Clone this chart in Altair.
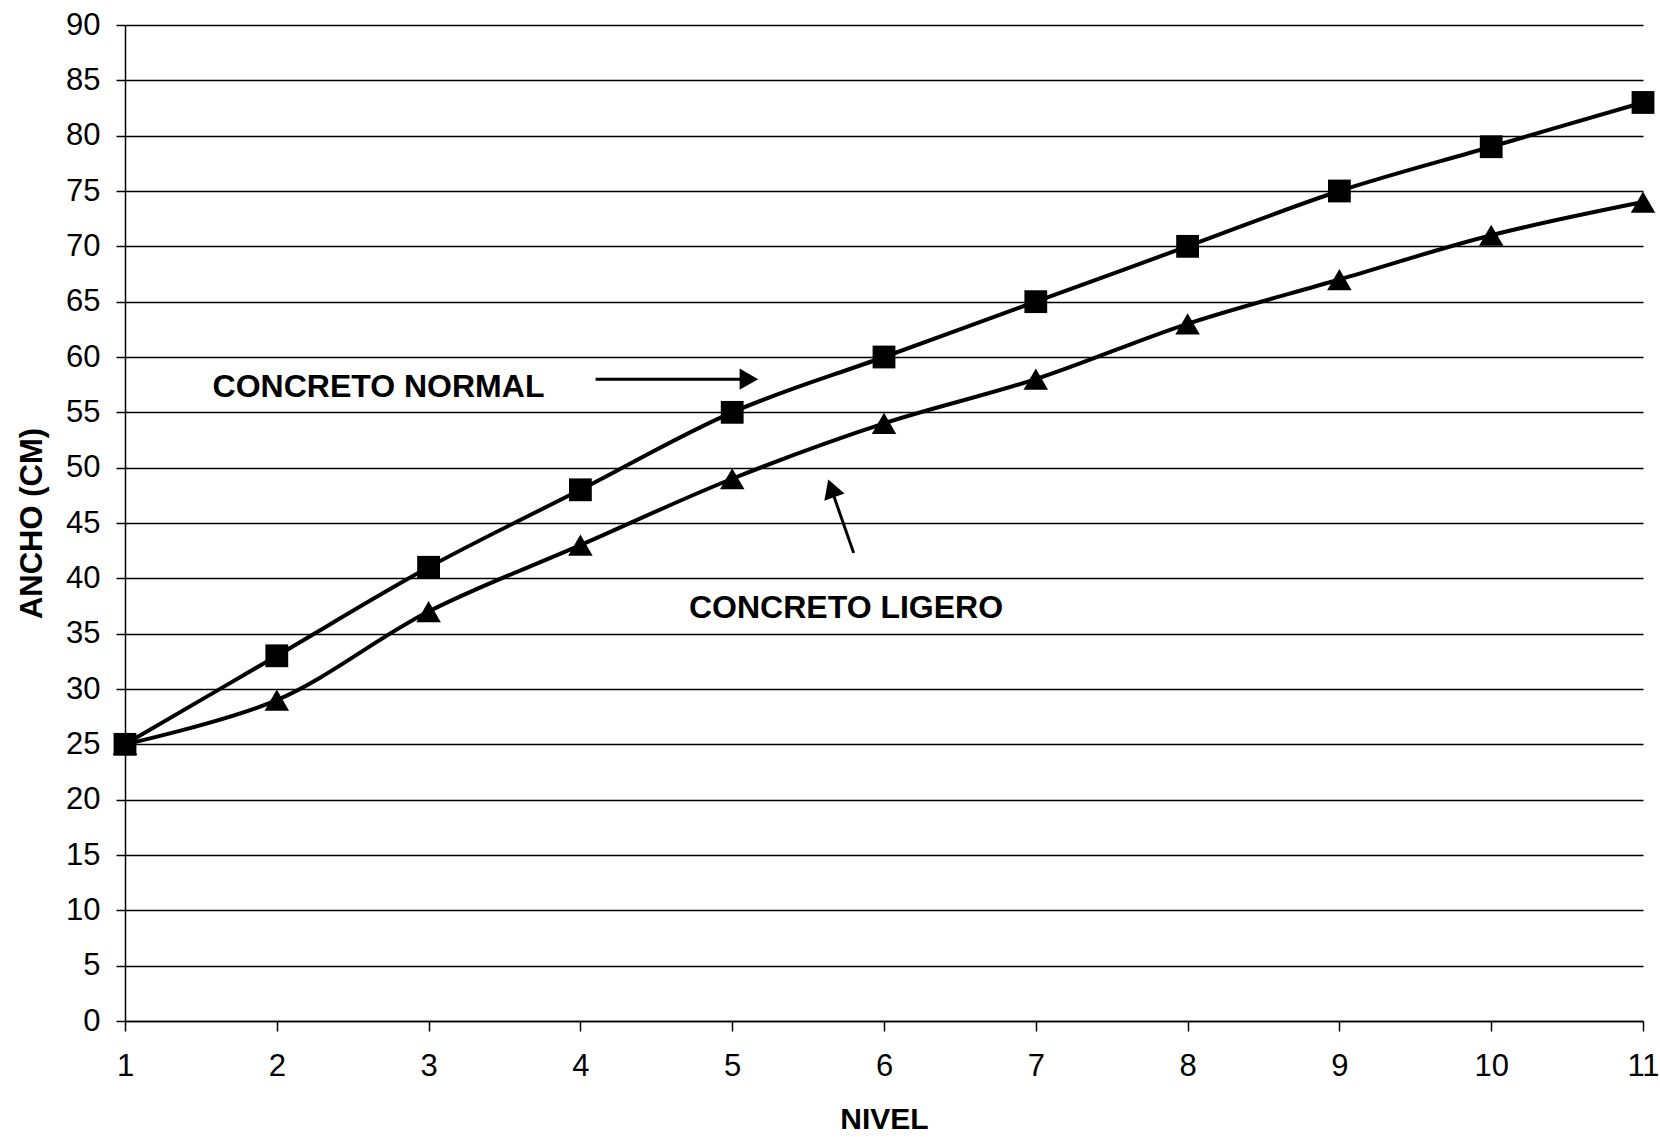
import altair as alt
import pandas as pd

nivel = [1, 2, 3, 4, 5, 6, 7, 8, 9, 10, 11]
concreto_normal = [25, 33, 41, 48, 55, 60, 65, 70, 75, 79, 83]
concreto_ligero = [25, 29, 37, 43, 49, 54, 58, 63, 67, 71, 74]

y_ticks = list(range(0, 95, 5))

label_text = ["CONCRETO NORMAL", "CONCRETO LIGERO"]
label_x = [2.67, 5.75]
label_y = [57.3, 37.3]

arrow_x = [4.10, 5.80]
arrow_y = [58.0, 42.3]
arrow_x2 = [5.08, 5.655]
arrow_y2 = [58.0, 48.0]
head_x = [5.11, 5.653]
head_y = [58.0, 48.13]
head_shape = ["triangle-right", "triangle-up"]
head_angle = [0, 340.6]

FONT = "Liberation Sans"

df_n = pd.DataFrame({"nivel": nivel, "ancho": concreto_normal})
df_l = pd.DataFrame({"nivel": nivel, "ancho": concreto_ligero})
df_lab = pd.DataFrame({"x": label_x, "y": label_y, "t": label_text})
df_arr = pd.DataFrame({"x": arrow_x, "y": arrow_y, "x2": arrow_x2, "y2": arrow_y2})
df_head = pd.DataFrame({"x": head_x, "y": head_y, "shape": head_shape, "angle": head_angle})

xs = alt.Scale(domain=[1, 11], nice=False, zero=False)
ys = alt.Scale(domain=[0, 90], nice=False)

x_axis = alt.Axis(
    title="NIVEL", values=nivel, format="d", labelFlush=False, grid=False,
    tickSize=10, tickWidth=1.5,
    tickColor="black", domainColor="black", domainWidth=1.5,
    labelFont=FONT, labelFontSize=31, labelColor="black", labelPadding=20,
    titleFont=FONT, titleFontSize=30, titleFontWeight="bold", titleColor="black",
    titlePadding=23,
)
y_axis = alt.Axis(
    title="ANCHO (CM)", values=y_ticks, format="d", labelFlush=False,
    grid=True, gridColor="black", gridWidth=1.5,
    gridOpacity=1, tickSize=9, tickWidth=1.5, tickColor="black",
    domainColor="black", domainWidth=1.5,
    labelFont=FONT, labelFontSize=31, labelColor="black", labelPadding=16,
    titleFont=FONT, titleFontSize=31, titleFontWeight="bold", titleColor="black",
    titlePadding=17,
)

X = alt.X("nivel:Q", scale=xs, axis=x_axis)
Y = alt.Y("ancho:Q", scale=ys, axis=y_axis)

line_l = alt.Chart(df_l).mark_line(color="black", strokeWidth=4, interpolate="catmull-rom").encode(x=X, y=Y)
pts_l = alt.Chart(df_l).mark_point(shape="triangle-up", filled=True, color="black", size=600, opacity=1).encode(x=X, y=Y)
line_n = alt.Chart(df_n).mark_line(color="black", strokeWidth=4, interpolate="catmull-rom").encode(x=X, y=Y)
pts_n = alt.Chart(df_n).mark_point(shape="square", filled=True, color="black", size=520, opacity=1).encode(x=X, y=Y)

labels = alt.Chart(df_lab).mark_text(
    font=FONT, fontSize=32, fontWeight="bold", color="black", align="center", baseline="middle"
).encode(x=alt.X("x:Q", scale=xs), y=alt.Y("y:Q", scale=ys), text="t:N")

arrows = alt.Chart(df_arr).mark_rule(color="black", strokeWidth=3).encode(
    x=alt.X("x:Q", scale=xs), y=alt.Y("y:Q", scale=ys), x2="x2:Q", y2="y2:Q"
)
heads = alt.Chart(df_head).mark_point(filled=True, color="black", size=460, opacity=1).encode(
    x=alt.X("x:Q", scale=xs), y=alt.Y("y:Q", scale=ys),
    shape=alt.Shape("shape:N", scale=None), angle=alt.Angle("angle:Q", scale=None)
)

chart = alt.layer(line_l, pts_l, line_n, pts_n, arrows, heads, labels).properties(
    width=1518, height=996,
    autosize=alt.AutoSizeParams(type="none"),
    padding={"left": 125, "top": 25, "right": 17, "bottom": 116},
    background="white",
).configure_view(strokeOpacity=0)

chart.save("out.html", embed_options={"renderer": "svg", "actions": False})
